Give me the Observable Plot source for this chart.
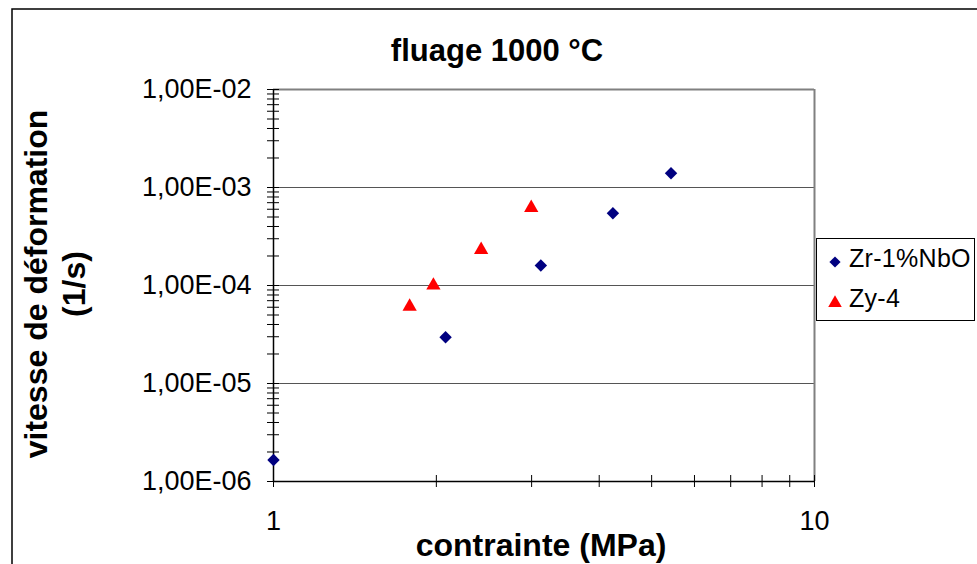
<!DOCTYPE html>
<html>
<head>
<meta charset="utf-8">
<script src="https://cdn.jsdelivr.net/npm/d3@7"></script>
<script src="https://cdn.jsdelivr.net/npm/@observablehq/plot@0.6"></script>
<style>
  html, body { margin: 0; padding: 0; background: #fff; }
  #chart svg { display: block; overflow: visible; }
</style>
</head>
<body>
<div id="chart"></div>
<script>
// ---- data ----
const zrStress = [1, 2.08, 3.12, 4.24, 5.43];
const zrRate   = [1.66e-6, 2.97e-5, 1.6e-4, 5.47e-4, 1.4e-3];
const zyStress = [1.785, 1.975, 2.42, 2.995];
const zyRate   = [6.1e-5, 1.0e-4, 2.31e-4, 6.2e-4];
const seriesNames = ["Zr-1%NbO", "Zy-4"];
const yTicks = [1e-6, 1e-5, 1e-4, 1e-3, 1e-2];
const yTickLabels = ["1,00E-06", "1,00E-05", "1,00E-04", "1,00E-03", "1,00E-02"];
const xTicks = [1, 10];
const xTickLabels = ["1", "10"];
const gridLines = [1e-5, 1e-4, 1e-3];
const title = "fluage 1000 °C";
const xTitle = "contrainte (MPa)";
const yTitleLines = ["vitesse de déformation", "(1/s)"];

const zr = zrStress.map((x, i) => ({x, y: zrRate[i]}));
const zy = zyStress.map((x, i) => ({x, y: zyRate[i]}));
const yMinor = d3.range(-6, -2).flatMap(e => d3.range(1, 10).map(m => m * Math.pow(10, e))).concat([1e-2]);
const xMinor = d3.range(1, 11);
const yLab = d => yTickLabels[yTicks.findIndex(t => Math.abs(Math.log10(t) - Math.log10(d)) < 1e-6)];
const xLab = d => xTickLabels[xTicks.findIndex(t => Math.abs(t - d) < 1e-9)];

const W = 977, H = 564;
const font = "Liberation Sans, Arial, sans-serif";

const plot = Plot.plot({
  width: W,
  height: H,
  marginLeft: 273,
  marginRight: 163,
  marginTop: 89,
  marginBottom: 83,
  style: {fontFamily: font, background: "#fff", color: "#000"},
  x: {type: "log", domain: [1, 10], axis: null},
  y: {type: "log", domain: [1e-6, 1e-2], axis: null},
  marks: [
    Plot.ruleY(gridLines, {stroke: "#555", strokeWidth: 1}),
    Plot.ruleY([1e-2], {stroke: "#808080", strokeWidth: 2}),
    Plot.ruleX([10], {stroke: "#808080", strokeWidth: 2}),
    Plot.ruleX([1], {stroke: "#000", strokeWidth: 1.5}),
    Plot.ruleY([1e-6], {stroke: "#000", strokeWidth: 1.5}),
    // crossing ticks
    Plot.axisY({ticks: yMinor, tickSize: 12, dx: 6, fill: "none", label: null, anchor: "left", stroke: "#000"}),
    Plot.axisX({ticks: xMinor, tickSize: 12, dy: -6, fill: "none", label: null, anchor: "bottom", stroke: "#000"}),
    // tick labels
    Plot.axisY({ticks: yTicks, tickSize: 0, tickPadding: 22, tickFormat: yLab,
      label: null, anchor: "left", fontSize: 27, fill: "#000"}),
    Plot.axisX({ticks: xTicks, tickSize: 0, tickPadding: 29, tickFormat: xLab,
      label: null, anchor: "bottom", fontSize: 27, fill: "#000"}),
    Plot.dot(zr, {x: "x", y: "y", symbol: "diamond2", r: 5.6, fill: "#000080", stroke: "none"}),
    Plot.dot(zy, {x: "x", y: "y", symbol: "triangle", r: 5.3, fill: "#ff0000", stroke: "none"})
  ]
});

const svg = d3.select(plot);
// outer chart border
svg.insert("rect", ":first-child")
  .attr("x", 12).attr("y", 9).attr("width", 1200).attr("height", 1200)
  .attr("fill", "none").attr("stroke", "#000").attr("stroke-width", 1.5);

// title
svg.append("text").attr("x", 497).attr("y", 61)
  .attr("text-anchor", "middle").attr("font-weight", "bold")
  .attr("font-size", 31).attr("font-family", font).text(title);

// x title
svg.append("text").attr("x", 541).attr("y", 556)
  .attr("text-anchor", "middle").attr("font-weight", "bold")
  .attr("font-size", 32).attr("font-family", font).text(xTitle);

// y title (two lines)
const yt = svg.append("text")
  .attr("transform", "translate(0,284) rotate(-90)")
  .attr("text-anchor", "middle").attr("font-weight", "bold")
  .attr("font-size", 32).attr("font-family", font);
yt.append("tspan").attr("x", 0).attr("y", 47).text(yTitleLines[0]);
yt.append("tspan").attr("x", 0).attr("y", 85).text(yTitleLines[1]);

// legend
const lg = svg.append("g").attr("text-anchor", "start");
lg.append("rect").attr("x", 816.5).attr("y", 238.5).attr("width", 158).attr("height", 82)
  .attr("fill", "#fff").attr("stroke", "#000").attr("stroke-width", 1);
lg.append("path").attr("transform", "translate(835,262)")
  .attr("d", d3.symbol(d3.symbolDiamond2, 80)()).attr("fill", "#000080");
lg.append("path").attr("transform", "translate(835,303)")
  .attr("d", d3.symbol(d3.symbolTriangle, 80)()).attr("fill", "#ff0000");
lg.append("text").attr("x", 849).attr("y", 267).attr("font-size", 25)
  .attr("font-family", font).attr("letter-spacing", 0.3).text(seriesNames[0]);
lg.append("text").attr("x", 849).attr("y", 307).attr("font-size", 25)
  .attr("font-family", font).attr("letter-spacing", 0.3).text(seriesNames[1]);

document.getElementById("chart").appendChild(plot);
</script>
</body>
</html>
